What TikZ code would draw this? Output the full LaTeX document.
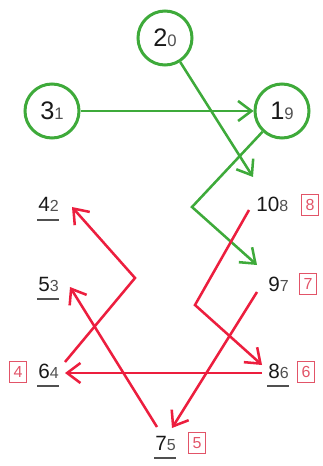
\documentclass[tikz,border=0pt]{standalone}
\usepackage{fontspec}
\setmainfont{Liberation Sans}
\usetikzlibrary{arrows.meta}
\definecolor{grn}{RGB}{62,170,58}
\definecolor{rd}{RGB}{236,30,62}
\definecolor{boxrd}{RGB}{226,84,104}
\definecolor{subgray}{RGB}{80,80,80}
\newcommand{\ixsub}[1]{{\fontsize{12}{13}\selectfont\color{subgray}#1}}
\newcommand{\cxsub}[1]{{\fontsize{12.5}{14}\selectfont\color{subgray}#1}}
\tikzset{
	circ/.style={circle, draw=grn, line width=2.25pt, minimum size=40.5pt, inner sep=0pt, text=black!90, font=\fontsize{19}{21}\selectfont},
	lbl/.style={inner sep=0pt, anchor=base west, text=black!90, font=\fontsize{15.5}{17}\selectfont},
	numbox/.style={draw=boxrd, line width=0.9pt, text=boxrd, minimum width=12.5pt, minimum height=16pt, inner sep=0pt, font=\fontsize{12}{13}\selectfont},
	garr/.style={draw=grn, line width=1.9pt, -{Straight Barb[length=10pt,width=15pt]}},
	rarr/.style={draw=rd, line width=1.9pt, -{Straight Barb[length=10pt,width=15pt]}},
	uline/.style={draw=subgray, line width=1.2pt}
}

\begin{document}
\begin{tikzpicture}[x=0.75pt, y=-0.75pt]
		%%%%% START %%%%%
		\useasboundingbox (0, 0) rectangle (322, 466);
		
		\node[circ] (c2) at (165, 38) {2\cxsub{0}};
		\node[circ] (c3) at (52, 111) {3\cxsub{1}};
		\node[circ] (c1) at (282, 111) {1\cxsub{9}};
		
		\node[lbl] (n4) at (38, 212) {4\ixsub{2}};
		\node[lbl] (n5) at (38, 291) {5\ixsub{3}};
		\node[lbl] (n6) at (38, 378) {6\ixsub{4}};
		\node[lbl] (n10) at (256, 212) {10\ixsub{8}};
		\node[lbl] (n9) at (268, 291) {9\ixsub{7}};
		\node[lbl] (n8) at (268, 378) {8\ixsub{6}};
		\node[lbl] (n7) at (155, 450) {7\ixsub{5}};
		
		\node[numbox] (b8) at (310, 205) {8};
		\node[numbox] (b7) at (308, 284) {7};
		\node[numbox] (b6) at (306, 372) {6};
		\node[numbox] (b4) at (18, 372) {4};
		\node[numbox] (b5) at (197, 443) {5};
		
		% underlines
		\draw[uline] ([shift={(-1,8)}]n4.base west) -- ([shift={(0,8)}]n4.base east);
		\draw[uline] ([shift={(-1,8)}]n5.base west) -- ([shift={(0,8)}]n5.base east);
		\draw[uline] ([shift={(-1,8)}]n6.base west) -- ([shift={(0,8)}]n6.base east);
		\draw[uline] ([shift={(-1,8)}]n8.base west) -- ([shift={(0,8)}]n8.base east);
		\draw[uline] ([shift={(-1,8)}]n7.base west) -- ([shift={(0,8)}]n7.base east);
		
		% green
		\coordinate (g19) at (192, 207);
		\draw[garr] (c3) -- (c1);
		\draw[garr] (c2) -- ([shift={(-3,-35)}]n10.base west);
		\draw[garr] (c1) -- (g19) -- ([shift={(-11,-26)}]n9.base west);
		
		% red
		\coordinate (r108) at (195, 305);
		\coordinate (r64) at (135, 278);
		\draw[rarr] ([shift={(-7,-2)}]n10.base west) -- (r108) -- ([shift={(-6,-13)}]n8.base west);
		\draw[rarr] ([shift={(-11,1)}]n9.base west) -- ([shift={(17,-22)}]n7.base west);
		\draw[rarr] ([shift={(27,-16)}]n6.base west) -- (r64) -- ([shift={(34,-5)}]n4.base west);
		\draw[rarr] ([shift={(-6,-5)}]n8.base west) -- ([shift={(27,-5)}]n6.base west);
		\draw[rarr] ([shift={(2,-23)}]n7.base west) -- ([shift={(32,-4)}]n5.base west);
		
		%%%%% END %%%%%
\end{tikzpicture}
\end{document}
